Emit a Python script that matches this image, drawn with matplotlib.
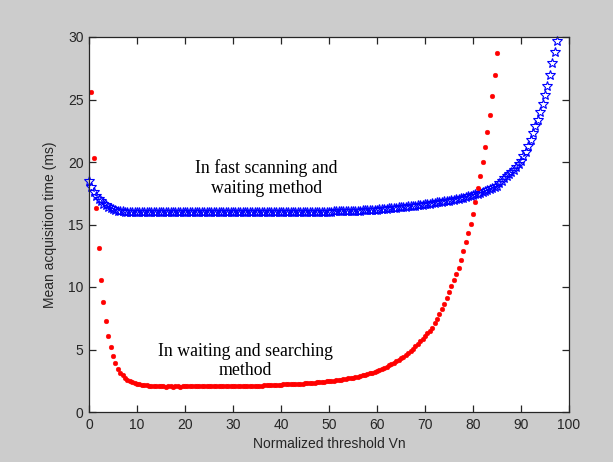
import numpy as np
import matplotlib
matplotlib.use("Agg")
import matplotlib.pyplot as plt

# ---- data ----
red_x = np.arange(0.5, 85.01, 0.5)
red_y = [
    25.6, 20.3, 16.3, 13.1, 10.6, 8.8, 7.3, 6.1, 5.2, 4.5,
    3.9, 3.45, 3.15, 2.95, 2.75, 2.6, 2.5, 2.42, 2.35, 2.28,
    2.23, 2.19, 2.16, 2.13, 2.11, 2.09, 2.07, 2.06, 2.05, 2.05,
    2.05, 2.04, 2.05, 2.05, 2.04, 2.05, 2.05, 2.04, 2.05, 2.05,
    2.05, 2.05, 2.05, 2.05, 2.05, 2.05, 2.05, 2.05, 2.05, 2.05,
    2.05, 2.05, 2.05, 2.05, 2.05, 2.05, 2.05, 2.05, 2.05, 2.05,
    2.05, 2.05, 2.05, 2.05, 2.05, 2.05, 2.1, 2.1, 2.11, 2.11,
    2.12, 2.12, 2.13, 2.13, 2.14, 2.14, 2.15, 2.16, 2.17, 2.2,
    2.21, 2.22, 2.22, 2.23, 2.24, 2.25, 2.26, 2.27, 2.28, 2.3,
    2.31, 2.33, 2.34, 2.36, 2.37, 2.39, 2.41, 2.43, 2.45, 2.47,
    2.5, 2.52, 2.55, 2.58, 2.6, 2.63, 2.66, 2.69, 2.72, 2.76,
    2.8, 2.84, 2.88, 2.93, 2.98, 3.03, 3.09, 3.15, 3.22, 3.3,
    3.38, 3.46, 3.55, 3.64, 3.74, 3.84, 3.95, 4.07, 4.2, 4.3,
    4.4, 4.55, 4.7, 4.9, 5.05, 5.25, 5.45, 5.65, 5.85, 6.1,
    6.3, 6.5, 6.75, 7.1, 7.45, 7.85, 8.25, 8.65, 9.15, 9.6,
    10.1, 10.6, 11.05, 11.5, 12.15, 12.85, 13.6, 14.3, 15.05, 15.85,
    16.8, 17.9, 18.9, 20.0, 21.2, 22.4, 23.8, 25.3, 27.0, 28.7,
]

blue_x = np.arange(0.0, 97.51, 0.5)
blue_y = [
    18.5, 18.0, 17.6, 17.3, 17.05, 16.85, 16.68, 16.53, 16.4, 16.3,
    16.22, 16.16, 16.11, 16.08, 16.05, 16.03, 16.01, 16.0, 15.99, 15.98,
    15.98, 15.98, 15.98, 15.98, 15.98, 15.98, 15.98, 15.98, 15.98, 15.98,
    15.98, 15.98, 15.98, 15.98, 15.98, 15.98, 15.98, 15.98, 15.98, 15.98,
    15.98, 15.98, 15.98, 15.98, 15.98, 15.98, 15.98, 15.98, 15.98, 15.98,
    15.98, 15.98, 15.98, 15.98, 15.98, 15.98, 15.98, 15.98, 15.98, 15.98,
    15.98, 15.98, 15.98, 15.98, 15.98, 15.98, 15.98, 15.98, 15.98, 15.98,
    16.0, 16.0, 16.0, 16.0, 16.0, 16.0, 16.0, 16.0, 16.0, 16.0,
    16.02, 16.02, 16.02, 16.02, 16.02, 16.02, 16.02, 16.02, 16.02, 16.02,
    16.03, 16.03, 16.03, 16.03, 16.03, 16.03, 16.03, 16.03, 16.03, 16.03,
    16.04, 16.04, 16.05, 16.05, 16.06, 16.06, 16.07, 16.07, 16.08, 16.08,
    16.09, 16.1, 16.11, 16.12, 16.13, 16.14, 16.15, 16.16, 16.17, 16.18,
    16.19, 16.21, 16.23, 16.25, 16.27, 16.29, 16.31, 16.33, 16.35, 16.37,
    16.39, 16.41, 16.43, 16.45, 16.47, 16.49, 16.51, 16.53, 16.55, 16.58,
    16.61, 16.64, 16.67, 16.7, 16.73, 16.76, 16.79, 16.82, 16.85, 16.88,
    16.91, 16.95, 16.99, 17.03, 17.07, 17.11, 17.16, 17.21, 17.26, 17.31,
    17.36, 17.42, 17.48, 17.54, 17.61, 17.68, 17.75, 17.83, 17.91, 18.0,
    18.1, 18.3, 18.5, 18.7, 18.9, 19.05, 19.2, 19.4, 19.6, 19.85,
    20.1, 20.45, 20.8, 21.25, 21.75, 22.3, 22.85, 23.4, 24.0, 24.65,
    25.35, 26.1, 27.0, 27.9, 28.8, 29.65,
]

x_ticks = [0, 10, 20, 30, 40, 50, 60, 70, 80, 90, 100]
y_ticks = [0, 5, 10, 15, 20, 25, 30]
x_label = "Normalized threshold Vn"
y_label = "Mean acquisition time (ms)"
note_fast = "In fast scanning and\nwaiting method"
note_wait = "In waiting and searching\nmethod"

# ---- figure ----
fig = plt.figure(figsize=(6.13, 4.62), dpi=100, facecolor="#cccccc")
ax = fig.add_axes([89 / 613, 50 / 462, 480 / 613, 375 / 462])
ax.set_facecolor("white")

ax.plot(blue_x, blue_y, linestyle="none", marker="*", markersize=7.5,
        markerfacecolor="none", markeredgecolor="#0000ff", markeredgewidth=0.8,
        clip_on=False)
ax.plot(red_x, red_y, linestyle="none", marker="o", markersize=3.4,
        markerfacecolor="#ff0000", markeredgecolor="#ff0000", markeredgewidth=0.3)

ax.set_xlim(0, 100)
ax.set_ylim(0, 30)
ax.set_xticks(x_ticks)
ax.set_yticks(y_ticks)

tick_font = {"family": "Liberation Sans", "size": 10}
ax.set_xticklabels([str(t) for t in x_ticks], fontdict=tick_font, color="#262626")
ax.set_yticklabels([str(t) for t in y_ticks], fontdict=tick_font, color="#262626")
ax.tick_params(direction="in", length=5, width=0.9, color="#262626",
               top=True, right=True, pad=4)
for s in ax.spines.values():
    s.set_color("#262626")
    s.set_linewidth(0.9)

ax.set_xlabel(x_label, fontdict=tick_font, color="#262626", labelpad=4)
ax.set_ylabel(y_label, fontdict=tick_font, color="#262626", labelpad=8)

note_font = {"family": "Liberation Serif", "size": 12.8}
ax.text(37.0, 18.7, note_fast, ha="center", va="center", fontdict=note_font,
        linespacing=1.2, color="black")
ax.text(32.6, 4.08, note_wait, ha="center", va="center", fontdict=note_font,
        linespacing=1.2, color="black")

fig.savefig("out.png", dpi=100, facecolor=fig.get_facecolor())
